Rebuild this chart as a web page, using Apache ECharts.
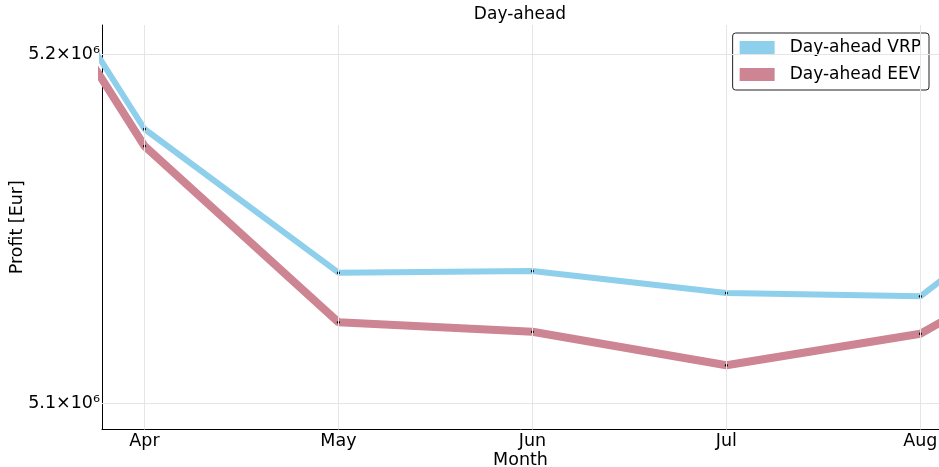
<!DOCTYPE html>
<html>
<head>
<meta charset="utf-8">
<script src="https://cdn.jsdelivr.net/npm/echarts@6/dist/echarts.min.js"></script>
<style>
html, body { margin: 0; padding: 0; background: #fff; }
#chart { width: 939px; height: 467px; }
</style>
</head>
<body>
<div id="chart"></div>
<script>
// Months along the x axis (Mar and Sep lie just outside the visible window)
const months = ['Mar', 'Apr', 'May', 'Jun', 'Jul', 'Aug', 'Sep'];
const monthPos = [-1, 0, 1, 2, 3, 4, 5];
const tickMonths = [0, 1, 2, 3, 4];

// Profit per month [Eur]
const vrpProfit = [5265900, 5178530, 5137390, 5137870, 5131570, 5130630, 5173400];
const eevProfit = [5261000, 5173660, 5123180, 5120500, 5110880, 5119920, 5151200];

const yTicks = [5100000, 5200000];

const FONT = 'DejaVu Sans';
const VRP_COLOR = '#8ecfeb';
const EEV_COLOR = '#cd8593';

function toPoints(values) {
  return values.map((v, i) => [monthPos[i], v]);
}

const chart = echarts.init(document.getElementById('chart'), null, { renderer: 'canvas' });

chart.setOption({
  animation: false,
  backgroundColor: '#ffffff',
  title: {
    text: 'Day-ahead',
    left: 520,
    textAlign: 'center',
    top: 6,
    padding: 0,
    textStyle: { fontFamily: FONT, fontSize: 17, fontWeight: 'normal', color: '#000' }
  },
  grid: { left: 102, right: 0, top: 25, bottom: 37.5, containLabel: false, outerBoundsMode: 'none' },
  legend: {
    orient: 'vertical',
    right: 10,
    top: 33,
    icon: 'rect',
    itemWidth: 35,
    itemHeight: 13,
    itemGap: 10,
    padding: [6, 8, 7, 7],
    borderColor: '#222',
    borderWidth: 1,
    borderRadius: 3,
    backgroundColor: '#fff',
    formatter: n => '{sp|}{t|' + n + '}',
    textStyle: {
      fontFamily: FONT, fontSize: 17, color: '#000',
      rich: {
        sp: { width: 10 },
        t: { fontFamily: FONT, fontSize: 17, color: '#000' }
      }
    },
    data: [
      { name: 'Day-ahead VRP', itemStyle: { color: VRP_COLOR, borderWidth: 0 } },
      { name: 'Day-ahead EEV', itemStyle: { color: EEV_COLOR, borderWidth: 0 } }
    ]
  },
  xAxis: {
    type: 'value',
    min: -0.219,
    max: 4.096,
    name: 'Month',
    nameLocation: 'middle',
    nameGap: 22,
    nameMoveOverlap: false,
    nameTextStyle: { fontFamily: FONT, fontSize: 17.5, color: '#000' },
    axisLine: { show: true, onZero: false, lineStyle: { color: '#000', width: 1 } },
    axisTick: { show: true, inside: true, length: 4, customValues: tickMonths, lineStyle: { color: '#000' } },
    axisLabel: {
      customValues: tickMonths,
      margin: 3,
      fontFamily: FONT, fontSize: 17.5, color: '#000',
      formatter: v => months[monthPos.indexOf(Math.round(v))]
    },
    splitLine: { show: false }
  },
  yAxis: {
    type: 'value',
    min: 5092500,
    max: 5208300,
    name: 'Profit [Eur]',
    nameLocation: 'middle',
    nameGap: 76,
    nameRotate: 90,
    nameMoveOverlap: false,
    nameTextStyle: { fontFamily: FONT, fontSize: 17.5, color: '#000' },
    axisLine: { show: true, onZero: false, lineStyle: { color: '#000', width: 1 } },
    axisTick: { show: true, inside: true, length: 4, customValues: yTicks, lineStyle: { color: '#000' } },
    axisLabel: {
      customValues: yTicks,
      margin: 2,
      fontFamily: FONT, fontSize: 17.5, color: '#000',
      formatter: v => (v / 1e6).toFixed(1) + '×10⁶'
    },
    splitLine: { show: false }
  },
  series: [
    {
      // grid lines at the labelled ticks
      type: 'line',
      data: [],
      silent: true,
      markLine: {
        silent: true,
        symbol: 'none',
        label: { show: false },
        lineStyle: { color: '#e5e5e5', width: 1, type: 'solid' },
        data: tickMonths.map(m => ({ xAxis: m })).concat(yTicks.map(v => ({ yAxis: v })))
      }
    },
    {
      name: 'Day-ahead VRP',
      type: 'line',
      data: toPoints(vrpProfit),
      clip: true,
      symbol: 'circle',
      symbolSize: 3,
      showSymbol: true,
      itemStyle: { color: '#000', borderWidth: 0 },
      lineStyle: { color: VRP_COLOR, width: 6 },
      z: 3
    },
    {
      name: 'Day-ahead EEV',
      type: 'line',
      data: toPoints(eevProfit),
      clip: true,
      symbol: 'circle',
      symbolSize: 3,
      showSymbol: true,
      itemStyle: { color: '#000', borderWidth: 0 },
      lineStyle: { color: EEV_COLOR, width: 8 },
      z: 2
    }
  ]
});
</script>
</body>
</html>
